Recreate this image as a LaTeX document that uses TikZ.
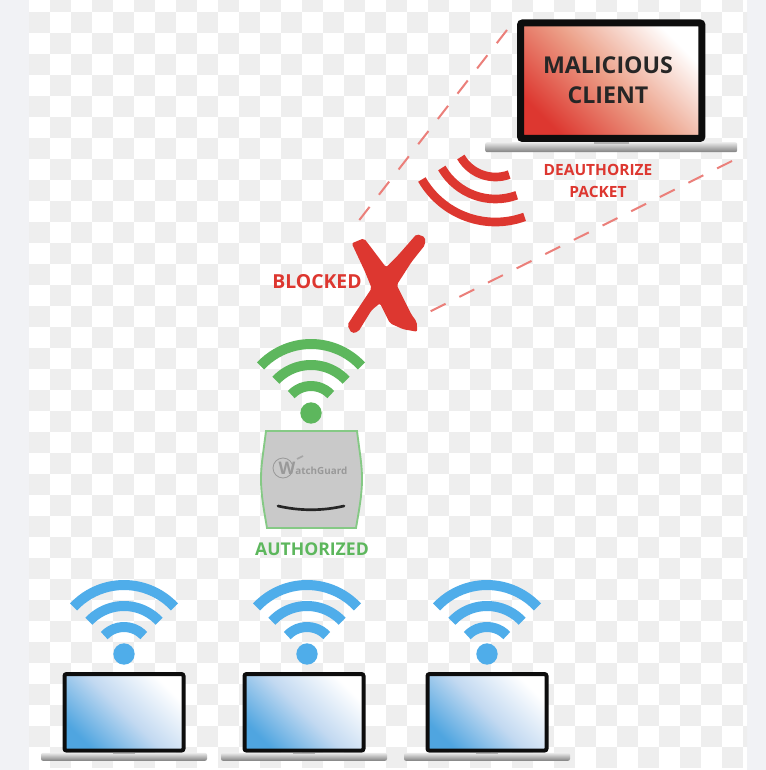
\documentclass[tikz,border=0pt]{standalone}
\usepackage{fontspec}
\setmainfont{Open Sans}
\usetikzlibrary{positioning}
\definecolor{pagegrey}{HTML}{F1F2F5}
\definecolor{checkgrey}{HTML}{EEEEEE}
\definecolor{alertred}{HTML}{DD3730}
\definecolor{midred}{HTML}{ECA088}
\definecolor{dashred}{HTML}{EB7F7A}
\definecolor{okgreen}{HTML}{5DB75D}
\definecolor{wifiblue}{HTML}{4FADEA}
\definecolor{lapblue}{HTML}{4FA5E0}
\definecolor{midblue}{HTML}{C2D9F1}
\definecolor{devicegrey}{HTML}{C9C9C9}

\begin{document}
\begin{tikzpicture}[
    x=0.75pt, y=-0.75pt,
    screen/.style={rectangle, draw=black!95, inner sep=0pt, rounded corners=1.5pt},
    clientscreen/.style={screen, line width=5.25pt, minimum width=136pt, minimum height=86.6pt, top color=white, bottom color=alertred, middle color=midred, shading angle=-45},
    userscreen/.style={screen, line width=3pt, minimum width=89.25pt, minimum height=57.4pt, top color=white, bottom color=lapblue, middle color=midblue, shading angle=-45},
    laptopbase/.style={rectangle, inner sep=0pt, rounded corners=1.5pt, minimum height=#1, top color=black!8, bottom color=black!50},
    redtext/.style={text=alertred, font=\bfseries\fontsize{11.6pt}{16.5pt}\selectfont, align=center},
    arcline/.style={line width=#1, line cap=butt},
    ray/.style={dashred, line width=1.5pt, dash pattern=on 12.5pt off 11.5pt},
    pics/wifi/.style={code={
        \begin{scope}[y=0.75pt]
            \foreach \r in {27,48,69}
                \draw[#1, arcline=7.5pt] (43:\r) arc[start angle=43, end angle=137, radius=\r*0.75pt];
            \fill[#1] (0,0) circle[radius=8pt];
        \end{scope}
    }}
]

    % Background
    \fill[pagegrey] (0,0) rectangle (766,770);
    \begin{scope}
        \clip (29,0) rectangle (747,770);
        \fill[white] (29,0) rectangle (747,770);
        \foreach \i in {0,...,34}
            \foreach \j in {0,...,36} {
                \pgfmathtruncatemacro{\k}{mod(\i+\j,2)}
                \ifnum\k=1
                    \fill[checkgrey] (29+21*\i,-9+21*\j) rectangle (50+21*\i,12+21*\j);
                \fi
            }
    \end{scope}
    \useasboundingbox (0,0) rectangle (766,770);

    % Rays
    \coordinate (rayatop) at (507,30);
    \coordinate (rayaend) at (357,223);
    \coordinate (raybtop) at (732,161);
    \coordinate (raybend) at (429,312);
    \draw[ray] (rayatop) -- (rayaend);
    \draw[ray] (raybtop) -- (raybend);

    % Malicious client
    \node[clientscreen] (client) at (611.2,80.7) {};
    \node[align=center, text=black!85, font=\bfseries\fontsize{17.4pt}{22.5pt}\selectfont] (clientlabel) at (608,80) {MALICIOUS\\CLIENT};
    \node[laptopbase=7.5pt, minimum width=189pt, below=0pt of client] (clientbase) {};
    \fill[black!30] ([xshift=-13pt]clientbase.north) rectangle ([xshift=13pt,yshift=-1.5pt]clientbase.north);
    \node[redtext] (deauth) at (598,181) {DEAUTHORIZE\\PACKET};

    % Red waves
    \begin{scope}[shift={(495.5,137)}, y=0.75pt]
        \foreach \r in {40,62,85}
            \draw[alertred, arcline=6.5pt] (210:\r) arc[start angle=210, end angle=290, radius=\r*0.75pt];
    \end{scope}

    % Blocked
    \fill[alertred, rounded corners=1.5pt] (351.7,243.3) -- (364,238.3) -- (371.7,248.3) -- (386,267.3) -- (398.3,255) -- (416.7,234) -- (425.3,237.3) -- (425,245) -- (411.7,261.7) -- (396.7,285) -- (403.3,298.3) -- (411.7,315) -- (416.7,321.7) -- (417.3,331.7) -- (403.3,329.3) -- (390,323.3) -- (380,303.3) -- (371.7,310) -- (358.3,331.7) -- (351.7,333.3) -- (347.3,325) -- (355,313.3) -- (371.7,288.3) -- (365,271.7) -- cycle;
    \node[redtext, font=\bfseries\fontsize{14.5pt}{15pt}\selectfont] (blocked) at (317,282) {BLOCKED};

    % Access point
    \pic at (311,413) {wifi=okgreen};
    \fill[devicegrey, draw=okgreen!75, line width=1.4pt] (266,431) -- (357,431) .. controls (360,455) and (362,465) .. (362,479) .. controls (362,495) and (359,510) .. (356,528) -- (267,528) .. controls (264,510) and (261,495) .. (261,479) .. controls (261,465) and (263,455) .. (266,431) -- cycle;
    \draw[black!40, line width=0.6pt] (283,468) circle[radius=7.5pt];
    \draw[black!35, line width=1.2pt] (297,459) -- (303,456);
    \node[text=black!40, inner sep=0pt, font=\bfseries\fontsize{7.4pt}{7pt}\selectfont] (logo) at (313,468) {{\fontsize{13pt}{13pt}\selectfont W}atchGuard};
    \draw[black!85, line width=2pt, line cap=round] (278,506) .. controls (300,511) and (322,511) .. (344,506);
    \node[redtext, text=okgreen, font=\bfseries\fontsize{13.2pt}{13pt}\selectfont] (authorized) at (312,549) {AUTHORIZED};

    % Users
    \foreach \name/\xpos/\wifix in {usera/124/124, userb/304/307, userc/487/487} {
        \pic at (\wifix,654) {wifi=wifiblue};
        \node[userscreen] (\name) at (\xpos,712.3) {};
        \node[laptopbase=6pt, minimum width=124.5pt, below=0pt of \name] (\name base) {};
        \fill[black!30] ([xshift=-8pt]\name base.north) rectangle ([xshift=8pt,yshift=-1pt]\name base.north);
    }

\end{tikzpicture}
\end{document}
